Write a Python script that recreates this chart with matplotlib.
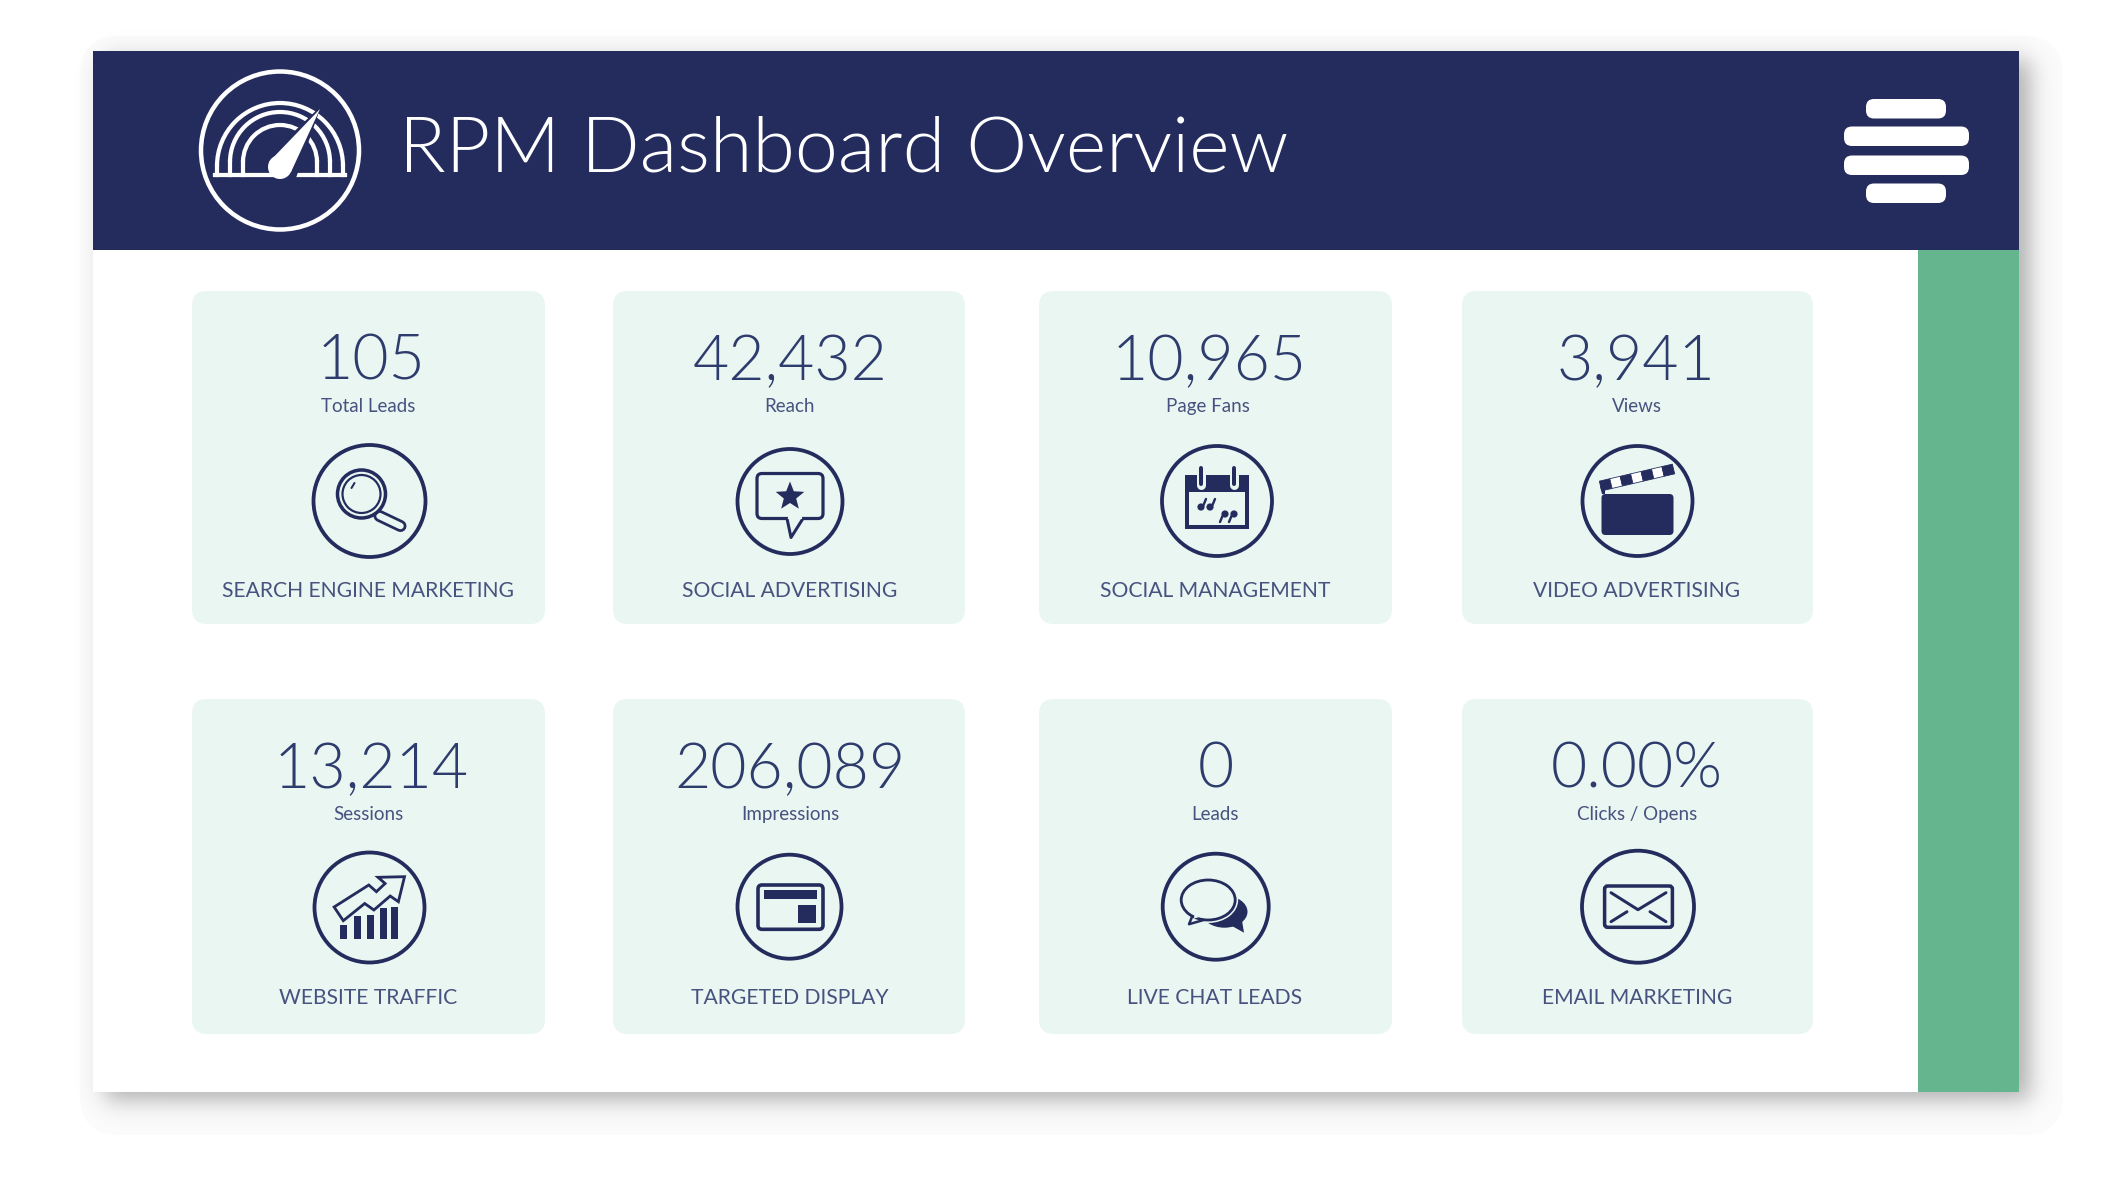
import os

import numpy as np
import matplotlib
matplotlib.use('Agg')
import matplotlib.pyplot as plt
from matplotlib import font_manager
from matplotlib.patches import Circle, Ellipse, FancyBboxPatch, Polygon, Rectangle, Arc

title = 'RPM Dashboard Overview'
values = ['105', '42,432', '10,965', '3,941', '13,214', '206,089', '0', '0.00%']
metrics = ['Total Leads', 'Reach', 'Page Fans', 'Views',
           'Sessions', 'Impressions', 'Leads', 'Clicks / Opens']
channels = ['SEARCH ENGINE MARKETING', 'SOCIAL ADVERTISING', 'SOCIAL MANAGEMENT', 'VIDEO ADVERTISING',
            'WEBSITE TRAFFIC', 'TARGETED DISPLAY', 'LIVE CHAT LEADS', 'EMAIL MARKETING']

NAVY = '#232c5c'
TEXT = '#2d3c6c'
SOFT = '#47527f'
CARD = '#e9f6f2'
GREEN = '#65b68f'
PX = 0.72  # points per pixel at dpi 100

card_left = [192, 613, 1039, 1462]
card_right = [545, 965, 1392, 1813]
card_top = [291, 699]
card_bottom = [624, 1034]
value_x = [371, 790, 1209, 1636, 371, 790, 1216, 1637]
metric_x = [368, 790, 1208, 1637, 368, 790, 1215, 1637]
channel_x = [368.5, 790, 1215, 1637, 368.5, 790, 1215, 1637]
icon_x = [369.5, 790, 1217, 1637.5, 369.5, 789.5, 1215.7, 1638]
icon_y = [501, 501.5, 501, 501, 907.5, 906.7, 906.7, 906.7]
icon_r = [56, 52.5, 55, 55, 55, 52, 53, 56]


def light_font(size):
    # weight='light' resolves to Lato Hairline, so look the file up by name
    for f in font_manager.fontManager.ttflist:
        if os.path.basename(f.fname).startswith('Lato-Light.'):
            return font_manager.FontProperties(fname=f.fname, size=size)
    return font_manager.FontProperties(family='Lato', size=size)


def round_rect(ax, x0, y0, x1, y1, rad, **kw):
    p = FancyBboxPatch((x0 + rad, y0 + rad), x1 - x0 - 2 * rad, y1 - y0 - 2 * rad,
                       boxstyle='round,pad=%f,rounding_size=%f' % (rad, rad), **kw)
    ax.add_patch(p)


def line(ax, xs, ys, w, color=NAVY, z=5):
    ax.plot(xs, ys, color=color, lw=w * PX, solid_capstyle='round', solid_joinstyle='round', zorder=z)


def icon_search(ax, x, y):
    line(ax, [x + 10, x + 31], [y + 15, y + 25], 12)
    line(ax, [x + 10, x + 31], [y + 15, y + 25], 6.5, CARD)
    ax.add_patch(Circle((x - 8, y - 7), 24, fc=CARD, ec=NAVY, lw=3.5 * PX, zorder=6))
    ax.add_patch(Circle((x - 8, y - 7), 19, fc=CARD, ec=NAVY, lw=2.2 * PX, zorder=6))
    line(ax, [x - 18, x - 15], [y - 13, y - 18], 2, z=7)


def icon_star(ax, x, y):
    round_rect(ax, x - 33, y - 28, x + 33, y + 17, 5, fc=CARD, ec=NAVY, lw=3.2 * PX, zorder=5)
    ax.add_patch(Polygon([[x - 3, y + 17], [x + 1, y + 36], [x + 13, y + 17]], closed=False,
                         fc=CARD, ec=NAVY, lw=3 * PX, joinstyle='round', zorder=6))
    ax.add_patch(Rectangle((x - 2, y + 13), 14, 4, fc=CARD, ec='none', zorder=7))
    ang = np.deg2rad(np.arange(10) * 36 - 90)
    rad = np.where(np.arange(10) % 2 == 0, 15, 6.5)
    ax.add_patch(Polygon(np.c_[x + rad * np.cos(ang), y - 5 + rad * np.sin(ang)], fc=NAVY, ec='none', zorder=7))


def icon_calendar(ax, x, y):
    ax.add_patch(Rectangle((x - 32, y - 26), 64, 54, fc=NAVY, ec='none', zorder=5))
    ax.add_patch(Rectangle((x - 28, y - 9), 56, 33, fc=CARD, ec='none', zorder=6))
    for dx in [-16.5, 17]:
        line(ax, [x + dx, x + dx], [y - 33, y - 16], 9, CARD, z=6)
        line(ax, [x + dx, x + dx], [y - 33, y - 17], 4, NAVY, z=7)
    for cx, cy, flip in [(x - 16, y + 6, 1), (x - 7, y + 6, 1), (x + 8, y + 13, -1), (x + 17, y + 13, -1)]:
        ax.add_patch(Circle((cx, cy), 3.6, fc=NAVY, ec='none', zorder=7))
        line(ax, [cx + flip * 2.5, cx + flip * 5], [cy - flip * 2, cy - flip * 8], 2.4, z=7)


def icon_clapper(ax, x, y):
    round_rect(ax, x - 36, y - 7, x + 36, y + 34, 4, fc=NAVY, ec='none', zorder=5)
    x0, y0, x1, y1 = x - 37, y - 15, x + 36, y - 32
    n = 7
    nx, ny = 0.23 * 5, 0.97 * 5
    ax.add_patch(Polygon([[x0 - 0.5, y0], [x0 + 4, y0], [x0 + 4, y - 7], [x0 + 1, y - 7]], fc=NAVY, ec='none', zorder=5))
    for i in range(n):
        a, b = i / n, (i + 1) / n
        pts = [[x0 + a * (x1 - x0) - nx, y0 + a * (y1 - y0) - ny], [x0 + b * (x1 - x0) - nx, y0 + b * (y1 - y0) - ny],
               [x0 + b * (x1 - x0) + nx, y0 + b * (y1 - y0) + ny], [x0 + a * (x1 - x0) + nx, y0 + a * (y1 - y0) + ny]]
        ax.add_patch(Polygon(pts, fc=NAVY if i % 2 == 0 else 'white', ec=NAVY, lw=0.8 * PX, zorder=6))


def icon_traffic(ax, x, y):
    bx = [-26.5, -12.5, 0.8, 13.5, 24.5]
    tops = [17.5, 8.5, 7.5, 0, -0.5]
    for dx, t in zip(bx, tops):
        ax.add_patch(Rectangle((x + dx - 3.5, y + t), 7, 31 - t, fc=NAVY, ec='none', zorder=5))
    arrow = [[-35.4, -0.5], [-0.7, -22.5], [6.9, -15.8], [15.6, -24], [8.5, -30.2], [35, -30.8],
             [28.9, -5.8], [20.7, -11.5], [4.4, 2.5], [-4.8, -4], [-26.2, 13.2]]
    ax.add_patch(Polygon([[x + a, y + b] for a, b in arrow], fc=CARD, ec=NAVY, lw=2.8 * PX, zorder=6))


def icon_display(ax, x, y):
    round_rect(ax, x - 31.5, y - 21.7, x + 33.5, y + 22.6, 4, fc=CARD, ec=NAVY, lw=3.6 * PX, zorder=5)
    ax.add_patch(Rectangle((x - 25.5, y - 16.7), 53, 9.3, fc=NAVY, ec='none', zorder=6))
    ax.add_patch(Rectangle((x + 8.7, y - 1.7), 17.8, 18.3, fc=NAVY, ec='none', zorder=6))


def icon_chat(ax, x, y):
    ax.add_patch(Ellipse((x + 8.8, y + 5), 46, 32, fc=NAVY, ec='none', zorder=5))
    ax.add_patch(Polygon([[x + 14, y + 18], [x + 28.3, y + 26], [x + 26, y + 12]], fc=NAVY, ec='none', zorder=5))
    ax.add_patch(Ellipse((x - 7.5, y - 6.7), 60, 46, fc=CARD, ec='none', zorder=6))
    ax.add_patch(Polygon([[x - 22, y + 6], [x - 26.7, y + 17.5], [x - 11, y + 13]], fc=CARD, ec=NAVY,
                         lw=2.5 * PX, joinstyle='round', zorder=6))
    ax.add_patch(Ellipse((x - 7.5, y - 6.7), 54, 40, fc=CARD, ec=NAVY, lw=2.8 * PX, zorder=7))
    ax.add_patch(Polygon([[x - 20, y + 4], [x - 22, y + 12], [x - 12, y + 9], [x - 10, y + 5]], fc=CARD, ec='none', zorder=8))


def icon_mail(ax, x, y):
    round_rect(ax, x - 33.4, y - 20.7, x + 34.4, y + 20.6, 3, fc=CARD, ec=NAVY, lw=3.5 * PX, zorder=5)
    line(ax, [x - 27, x, x + 28], [y - 14, y + 3, y - 14], 3, z=6)
    line(ax, [x - 27, x - 11], [y + 15, y + 5], 3, z=6)
    line(ax, [x + 28, x + 12], [y + 15, y + 5], 3, z=6)


icons = [icon_search, icon_star, icon_calendar, icon_clapper,
         icon_traffic, icon_display, icon_chat, icon_mail]

plt.rcParams['font.family'] = ['Lato', 'DejaVu Sans']
fig = plt.figure(figsize=(21.13, 11.88), dpi=100)
ax = fig.add_axes([0, 0, 1, 1])

# soft drop shadow behind the panel
W, H = 2113, 1188
xx = np.arange(W) + 0.5
yy = np.arange(H) + 0.5
s = 7.0
prof_x = 1 / (1 + np.exp((105 - xx) / s)) * 1 / (1 + np.exp((xx - 2030) / s))
prof_y = 1 / (1 + np.exp((60 - yy) / s)) * 1 / (1 + np.exp((yy - 1100) / s))
shade = np.zeros((H, W, 4))
shade[..., 3] = 0.3 * np.outer(prof_y, prof_x)
round_rect(ax, 80, 36, 2063, 1135, 40, fc='#fbfbfb', ec='none', zorder=0)
ax.imshow(shade, extent=(0, W, H, 0), aspect='auto', zorder=1, interpolation='bilinear')

# panel, header, side bar
ax.add_patch(Rectangle((93, 51), 1926, 1041, fc='white', ec='none', zorder=2))
ax.add_patch(Rectangle((1918, 250), 101, 842, fc=GREEN, ec='none', zorder=3))
ax.add_patch(Rectangle((93, 51), 1926, 199, fc=NAVY, ec='none', zorder=3))

ax.text(399, 171.5, title, color='white', fontproperties=light_font(55.5), va='baseline', ha='left', zorder=5)

# speedometer logo
cx, cy, base = 280, 150.5, 175
ax.add_patch(Circle((cx, cy), 79, fc='none', ec='white', lw=4.5 * PX, zorder=5))
for rx, top in [(63, 103), (50, 112), (37, 125)]:
    cyc = top + rx
    ax.add_patch(Arc((cx, cyc), 2 * rx, 2 * rx, theta1=180, theta2=360, ec='white', lw=4.2 * PX, zorder=5))
    for sx in [-1, 1]:
        ax.plot([cx + sx * rx, cx + sx * rx], [cyc, base], color='white', lw=4.2 * PX, zorder=5)
ax.plot([cx - 65, cx + 65], [base, base], color='white', lw=4.2 * PX, zorder=5)
ax.add_patch(Polygon([[cx - 17, 161], [321, 106], [cx + 16, 178], [cx, 186]], fc=NAVY, ec='none', zorder=6))
ax.add_patch(Polygon([[cx - 11, 162], [320, 109], [cx + 11, 172]], fc='white', ec='none', zorder=7))
ax.add_patch(Circle((cx, 167), 12, fc='white', ec='none', zorder=7))

# menu bars
bar_x0 = [1866, 1844, 1844, 1866]
bar_x1 = [1946, 1969, 1969, 1946]
bar_y = [99, 126.5, 155.5, 183.5]
for x0, x1, y0 in zip(bar_x0, bar_x1, bar_y):
    round_rect(ax, x0, y0, x1, y0 + 19.5, 8, fc='white', ec='none', zorder=5)

# cards
for i in range(8):
    col, row = i % 4, i // 4
    dy = 408 * row
    round_rect(ax, card_left[col], card_top[row], card_right[col], card_bottom[row], 15,
               fc=CARD, ec='none', zorder=3)
    ax.text(value_x[i], 380 + dy, values[i], color=TEXT, fontproperties=light_font(45), ha='center',
            va='baseline', zorder=5)
    ax.text(metric_x[i], 412 + dy, metrics[i], color=SOFT, fontsize=13.5, ha='center', va='baseline', zorder=5)
    ax.text(channel_x[i], 597 + dy - (1 if row else 0), channels[i], color=SOFT, fontsize=15.2, ha='center',
            va='baseline', zorder=5)
    ax.add_patch(Circle((icon_x[i], icon_y[i]), icon_r[i], fc='none', ec=NAVY, lw=3.8 * PX, zorder=5))
    icons[i](ax, icon_x[i], icon_y[i])

ax.set_xlim(0, W)
ax.set_ylim(H, 0)
ax.axis('off')
fig.savefig('out.png', dpi=100, facecolor='white')
